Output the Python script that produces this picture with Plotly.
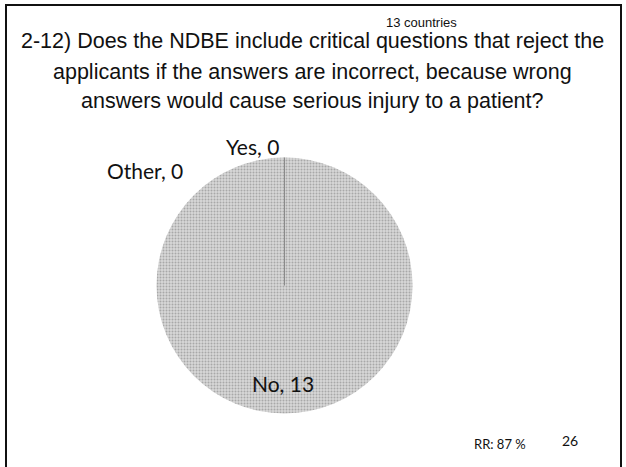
import plotly.graph_objects as go

# Data
categories = ["Yes", "No", "Other"]
values = [0, 13, 0]
title_lines = [
    "2-12) Does the NDBE include critical questions that reject the",
    "applicants if the answers are incorrect, because wrong",
    "answers would cause serious injury to a patient?",
]
note_top = "13 countries"
note_rr = "RR: 87 %"
page_no = "26"

W, H = 626, 467
cx, cy, r = 284.5, 285.5, 128  # pie centre / radius in px (layout)

fig = go.Figure()
fig.add_trace(go.Pie(
    labels=categories,
    values=values,
    sort=False,
    direction="clockwise",
    rotation=0,
    textinfo="none",
    hoverinfo="label+value",
    showlegend=False,
    marker=dict(
        colors=["#cfcfcf", "#d2d2d2", "#cfcfcf"],
        line=dict(width=0),
        pattern=dict(shape=".", fgcolor="#a8a8a8", bgcolor="#d8d8d8", size=3, solidity=0.35),
    ),
    domain=dict(x=[(cx - r) / W, (cx + r) / W], y=[(H - cy - r) / H, (H - cy + r) / H]),
))

# radial boundary of the zero slices (from centre to 12 o'clock)
fig.add_shape(type="line", xref="paper", yref="paper",
              x0=cx / W, x1=cx / W, y0=(H - cy) / H, y1=(H - cy + r) / H,
              line=dict(color="#8a8a8a", width=1))

# slide border
fig.add_shape(type="rect", xref="paper", yref="paper",
              x0=6 / W, x1=621 / W, y0=-0.05, y1=1 - 5 / H,
              line=dict(color="#111111", width=2))

title_font = dict(family="Liberation Sans, Arial", size=21.5, color="#111111")
for line, yc in zip(title_lines, [41, 72, 101]):
    fig.add_annotation(text=line, x=312 / W, y=1 - yc / H, xref="paper", yref="paper",
                       showarrow=False, font=title_font, xanchor="center", yanchor="middle")

fig.add_annotation(text=note_top, x=421 / W, y=1 - 22 / H, xref="paper", yref="paper",
                   showarrow=False, font=dict(family="Liberation Sans, Arial", size=13, color="#111111"),
                   xanchor="center", yanchor="middle")

label_font = dict(family="Lato, Calibri", size=21, color="#111111")
label_pos = {"Yes": (252, 147), "Other": (145, 170), "No": (283, 383)}
for cat, val in zip(categories, values):
    px, py = label_pos[cat]
    fig.add_annotation(text=f"{cat}, {val}", x=px / W, y=1 - py / H, xref="paper", yref="paper",
                       showarrow=False, font=label_font, xanchor="center", yanchor="middle")

fig.add_annotation(text=note_rr, x=500 / W, y=1 - 444 / H, xref="paper", yref="paper",
                   showarrow=False, font=dict(family="Lato, Calibri", size=13, color="#111111"),
                   xanchor="center", yanchor="middle")
fig.add_annotation(text=page_no, x=570 / W, y=1 - 440 / H, xref="paper", yref="paper",
                   showarrow=False, font=dict(family="Lato, Calibri", size=14, color="#111111"),
                   xanchor="center", yanchor="middle")

fig.update_layout(width=W, height=H, margin=dict(l=0, r=0, t=0, b=0),
                  paper_bgcolor="white", plot_bgcolor="white")
fig.write_html("out.html", config={"displayModeBar": False},
               post_script="document.body.style.margin='0';document.body.style.overflow='hidden';")
